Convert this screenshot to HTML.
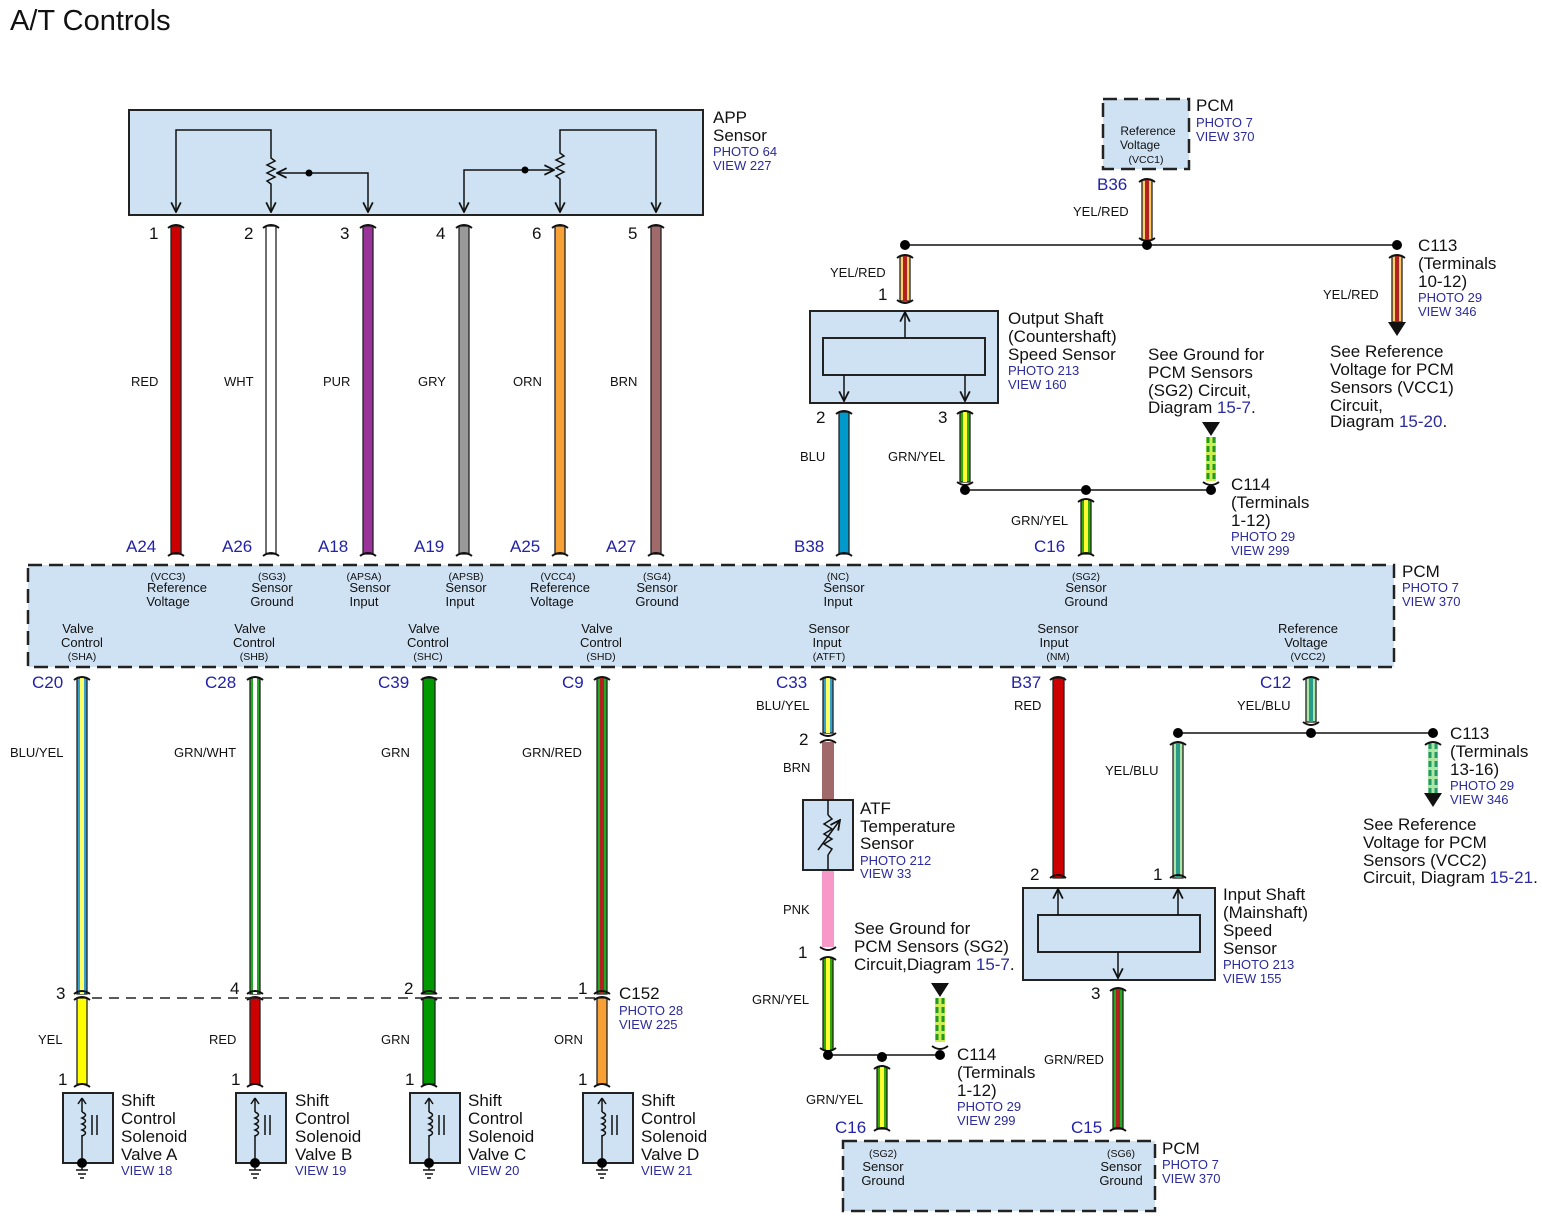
<!DOCTYPE html>
<html><head><meta charset="utf-8"><style>
html,body{margin:0;padding:0;background:#fff}
svg{display:block}
text{font-family:"Liberation Sans",sans-serif;fill:#111}
.t{font-size:29px}
.p{font-size:17px}
.w{font-size:13px}
.n{font-size:17px}
.b{font-size:13px;fill:#2b2b9c}
.c{font-size:17px;fill:#2222aa}
.l{font-size:13px;text-anchor:middle}
.s{font-size:10.5px;text-anchor:middle}
.box{fill:#cfe2f3;stroke:#222;stroke-width:2}
.dash{fill:#cfe2f3;stroke:#222;stroke-width:2.5;stroke-dasharray:14 7}
.ln{stroke:#111;stroke-width:1.5;fill:none}
.wr{stroke:#222;stroke-width:1.3}
.cap{stroke:#111;stroke-width:2;fill:none}
</style></head><body>
<svg width="1542" height="1223" viewBox="0 0 1542 1223" xmlns="http://www.w3.org/2000/svg">
<defs>
<marker id="ar" viewBox="0 0 10 10" refX="9" refY="5" markerWidth="8" markerHeight="8" orient="auto-start-reverse"><path d="M1 1 L9 5 L1 9" fill="none" stroke="#111" stroke-width="1.5"/></marker>
</defs>
<text x="10" y="30" class="t">A/T Controls</text>

<rect x="129" y="110" width="574" height="105" class="box"/>
<path class="ln" d="M176 212 V130 H271 V155" marker-start="url(#ar)"/>
<polyline class="ln" points="271,155 271,158 275,161 267,165 275,169 267,173 275,177 267,181 271,184 271,187"/>
<path class="ln" d="M271 187 V212" marker-end="url(#ar)"/>
<path class="ln" d="M368 212 V173 H277" marker-start="url(#ar)" marker-end="url(#ar)"/>
<circle cx="309" cy="173" r="3.5"/>
<path class="ln" d="M464 212 V170 H554" marker-start="url(#ar)" marker-end="url(#ar)"/>
<circle cx="525" cy="170" r="3.5"/>
<polyline class="ln" points="560,150 560,153 564,156 556,160 564,164 556,168 564,172 556,176 560,179 560,186"/>
<path class="ln" d="M560 212 V186" marker-start="url(#ar)"/>
<path class="ln" d="M560 150 V130 H656 V212" marker-end="url(#ar)"/>
<text x="713" y="123" class="n">APP</text><text x="713" y="141" class="n">Sensor</text>
<text x="713" y="156" class="b">PHOTO 64</text><text x="713" y="170" class="b">VIEW 227</text>

<g>
<rect x="171" y="226" width="10" height="328" fill="#cc0000" class="wr"/>
<rect x="266" y="226" width="10" height="328" fill="#fff" class="wr"/>
<rect x="363" y="226" width="10" height="328" fill="#993399" class="wr"/>
<rect x="459" y="226" width="10" height="328" fill="#999" class="wr"/>
<rect x="555" y="226" width="10" height="328" fill="#f7a035" class="wr"/>
<rect x="651" y="226" width="10" height="328" fill="#a06a6a" class="wr"/>
<path class="cap" d="M168 228 Q176 222 184 228 M263 228 Q271 222 279 228 M360 228 Q368 222 376 228 M456 228 Q464 222 472 228 M552 228 Q560 222 568 228 M648 228 Q656 222 664 228"/>
<path class="cap" d="M168 556 Q176 550 184 556 M263 556 Q271 550 279 556 M360 556 Q368 550 376 556 M456 556 Q464 550 472 556 M552 556 Q560 550 568 556 M648 556 Q656 550 664 556"/>
</g>
<text x="149" y="239" class="p">1</text><text x="244" y="239" class="p">2</text><text x="340" y="239" class="p">3</text>
<text x="436" y="239" class="p">4</text><text x="532" y="239" class="p">6</text><text x="628" y="239" class="p">5</text>
<text x="131" y="386" class="w">RED</text><text x="224" y="386" class="w">WHT</text><text x="323" y="386" class="w">PUR</text>
<text x="418" y="386" class="w">GRY</text><text x="513" y="386" class="w">ORN</text><text x="610" y="386" class="w">BRN</text>
<text x="126" y="552" class="c">A24</text><text x="222" y="552" class="c">A26</text><text x="318" y="552" class="c">A18</text>
<text x="414" y="552" class="c">A19</text><text x="510" y="552" class="c">A25</text><text x="606" y="552" class="c">A27</text>

<rect x="28" y="565" width="1366" height="102" class="dash"/>
<text x="1402" y="577" class="n">PCM</text><text x="1402" y="592" class="b">PHOTO 7</text><text x="1402" y="606" class="b">VIEW 370</text>
<g>
<text x="168" y="580" class="s">(VCC3)</text><text x="177" y="592" class="l">Reference</text><text x="168" y="606" class="l">Voltage</text>
<text x="272" y="580" class="s">(SG3)</text><text x="272" y="592" class="l">Sensor</text><text x="272" y="606" class="l">Ground</text>
<text x="364" y="580" class="s">(APSA)</text><text x="370" y="592" class="l">Sensor</text><text x="364" y="606" class="l">Input</text>
<text x="466" y="580" class="s">(APSB)</text><text x="466" y="592" class="l">Sensor</text><text x="460" y="606" class="l">Input</text>
<text x="558" y="580" class="s">(VCC4)</text><text x="560" y="592" class="l">Reference</text><text x="552" y="606" class="l">Voltage</text>
<text x="657" y="580" class="s">(SG4)</text><text x="657" y="592" class="l">Sensor</text><text x="657" y="606" class="l">Ground</text>
<text x="838" y="580" class="s">(NC)</text><text x="844" y="592" class="l">Sensor</text><text x="838" y="606" class="l">Input</text>
<text x="1086" y="580" class="s">(SG2)</text><text x="1086" y="592" class="l">Sensor</text><text x="1086" y="606" class="l">Ground</text>
<text x="78" y="633" class="l">Valve</text><text x="82" y="647" class="l">Control</text><text x="82" y="660" class="s">(SHA)</text>
<text x="250" y="633" class="l">Valve</text><text x="254" y="647" class="l">Control</text><text x="254" y="660" class="s">(SHB)</text>
<text x="424" y="633" class="l">Valve</text><text x="428" y="647" class="l">Control</text><text x="428" y="660" class="s">(SHC)</text>
<text x="597" y="633" class="l">Valve</text><text x="601" y="647" class="l">Control</text><text x="601" y="660" class="s">(SHD)</text>
<text x="829" y="633" class="l">Sensor</text><text x="827" y="647" class="l">Input</text><text x="829" y="660" class="s">(ATFT)</text>
<text x="1058" y="633" class="l">Sensor</text><text x="1054" y="647" class="l">Input</text><text x="1058" y="660" class="s">(NM)</text>
<text x="1308" y="633" class="l">Reference</text><text x="1306" y="647" class="l">Voltage</text><text x="1308" y="660" class="s">(VCC2)</text>
</g>

<g>
<rect x="77" y="678" width="10" height="316" fill="#33a0d0" class="wr"/><rect x="80" y="678" width="4" height="316" fill="#ffff66"/>
<rect x="250" y="678" width="10" height="316" fill="#22aa22" class="wr"/><rect x="253" y="678" width="4" height="316" fill="#fff"/>
<rect x="423" y="678" width="12" height="316" fill="#009900" class="wr"/>
<rect x="597" y="678" width="10" height="316" fill="#22aa22" class="wr"/><rect x="600" y="678" width="4" height="316" fill="#b22020"/>
<rect x="77" y="998" width="10" height="86" fill="#ffff00" class="wr"/>
<rect x="250" y="998" width="10" height="86" fill="#cc0000" class="wr"/>
<rect x="423" y="998" width="12" height="86" fill="#009900" class="wr"/>
<rect x="597" y="998" width="10" height="86" fill="#f7a035" class="wr"/>
<path class="cap" d="M74 680 Q82 674 90 680 M247 680 Q255 674 263 680 M421 680 Q429 674 437 680 M594 680 Q602 674 610 680"/>
<path class="cap" d="M74 994 Q82 988 90 994 M247 994 Q255 988 263 994 M421 994 Q429 988 437 994 M594 994 Q602 988 610 994"/>
<path class="cap" d="M74 1000 Q82 994 90 1000 M247 1000 Q255 994 263 1000 M421 1000 Q429 994 437 1000 M594 1000 Q602 994 610 1000"/>
<path class="cap" d="M74 1087 Q82 1081 90 1087 M247 1087 Q255 1081 263 1087 M421 1087 Q429 1081 437 1087 M594 1087 Q602 1081 610 1087"/>
</g>
<line x1="92" y1="998" x2="596" y2="998" stroke="#222" stroke-width="1.5" stroke-dasharray="10 7"/>
<text x="32" y="688" class="c">C20</text><text x="205" y="688" class="c">C28</text><text x="378" y="688" class="c">C39</text><text x="562" y="688" class="c">C9</text>
<text x="10" y="757" class="w">BLU/YEL</text><text x="174" y="757" class="w">GRN/WHT</text><text x="381" y="757" class="w">GRN</text><text x="522" y="757" class="w">GRN/RED</text>
<text x="56" y="999" class="p">3</text><text x="230" y="994" class="p">4</text><text x="404" y="994" class="p">2</text><text x="578" y="994" class="p">1</text>
<text x="619" y="999" class="n">C152</text><text x="619" y="1015" class="b">PHOTO 28</text><text x="619" y="1029" class="b">VIEW 225</text>
<text x="38" y="1044" class="w">YEL</text><text x="209" y="1044" class="w">RED</text><text x="381" y="1044" class="w">GRN</text><text x="554" y="1044" class="w">ORN</text>
<text x="58" y="1085" class="p">1</text><text x="231" y="1085" class="p">1</text><text x="405" y="1085" class="p">1</text><text x="578" y="1085" class="p">1</text>

<g id="sol">
<rect x="63" y="1093" width="50" height="70" class="box"/>
<path class="ln" d="M82 1158 V1135 M82 1098 V1112"/>
<path class="ln" d="M82 1098 l-4 6 M82 1098 l4 6"/>
<path class="ln" d="M82 1112 q7 3 0 6 q7 3 0 6 q7 3 0 6 q7 3 0 6"/>
<path class="ln" d="M92 1115 V1135 M97 1115 V1135"/>
<circle cx="82" cy="1163" r="5"/>
<path class="ln" d="M82 1168 V1170 M76 1170 H88 M78 1174 H86 M80 1178 H84"/>
</g>
<use href="#sol" x="173"/><use href="#sol" x="347"/><use href="#sol" x="520"/>
<text x="121" y="1106" class="n">Shift</text><text x="121" y="1124" class="n">Control</text><text x="121" y="1142" class="n">Solenoid</text><text x="121" y="1160" class="n">Valve A</text><text x="121" y="1175" class="b">VIEW 18</text>
<text x="295" y="1106" class="n">Shift</text><text x="295" y="1124" class="n">Control</text><text x="295" y="1142" class="n">Solenoid</text><text x="295" y="1160" class="n">Valve B</text><text x="295" y="1175" class="b">VIEW 19</text>
<text x="468" y="1106" class="n">Shift</text><text x="468" y="1124" class="n">Control</text><text x="468" y="1142" class="n">Solenoid</text><text x="468" y="1160" class="n">Valve C</text><text x="468" y="1175" class="b">VIEW 20</text>
<text x="641" y="1106" class="n">Shift</text><text x="641" y="1124" class="n">Control</text><text x="641" y="1142" class="n">Solenoid</text><text x="641" y="1160" class="n">Valve D</text><text x="641" y="1175" class="b">VIEW 21</text>

<rect x="1103" y="99" width="86" height="70" class="dash"/>
<text x="1148" y="135" class="l" style="font-size:12px">Reference</text><text x="1140" y="149" class="l" style="font-size:12px">Voltage</text><text x="1146" y="163" class="s">(VCC1)</text>
<text x="1196" y="111" class="n">PCM</text><text x="1196" y="127" class="b">PHOTO 7</text><text x="1196" y="141" class="b">VIEW 370</text>
<text x="1097" y="190" class="c">B36</text>
<rect x="1142" y="180" width="10" height="60" fill="#ffcc66" class="wr"/><rect x="1145" y="180" width="4" height="60" fill="#b22020"/>
<path class="cap" d="M1139 182 Q1147 176 1155 182 M1139 238 Q1147 244 1155 238"/>
<text x="1073" y="216" class="w">YEL/RED</text>
<line x1="905" y1="245" x2="1397" y2="245" stroke="#111" stroke-width="1.5"/>
<circle cx="905" cy="245" r="5"/><circle cx="1147" cy="245" r="5"/><circle cx="1397" cy="245" r="5"/>
<rect x="900" y="256" width="10" height="45" fill="#ffcc66" class="wr"/><rect x="903" y="256" width="4" height="45" fill="#b22020"/>
<path class="cap" d="M897 258 Q905 252 913 258 M897 300 Q905 306 913 300"/>
<text x="830" y="277" class="w">YEL/RED</text><text x="878" y="300" class="p">1</text>
<rect x="1392" y="256" width="10" height="66" fill="#ffcc66" class="wr"/><rect x="1395" y="256" width="4" height="66" fill="#b22020"/>
<path class="cap" d="M1389 258 Q1397 252 1405 258"/>
<path d="M1388 322 H1406 L1397 336 Z" fill="#111"/>
<text x="1323" y="299" class="w">YEL/RED</text>
<text x="1418" y="251" class="n">C113</text><text x="1418" y="269" class="n">(Terminals</text><text x="1418" y="287" class="n">10-12)</text>
<text x="1418" y="302" class="b">PHOTO 29</text><text x="1418" y="316" class="b">VIEW 346</text>
<text x="1330" y="357" class="n">See Reference</text><text x="1330" y="375" class="n">Voltage for PCM</text><text x="1330" y="393" class="n">Sensors (VCC1)</text><text x="1330" y="411" class="n">Circuit,</text>
<text x="1330" y="427" class="n">Diagram <tspan style="fill:#2b2b9c">15-20</tspan>.</text>

<rect x="810" y="311" width="188" height="92" class="box"/>
<rect x="823" y="338" width="162" height="37" fill="none" stroke="#222" stroke-width="2"/>
<path class="ln" d="M905 338 V312" marker-end="url(#ar)"/>
<path class="ln" d="M844 375 V401" marker-end="url(#ar)"/><path class="ln" d="M965 375 V401" marker-end="url(#ar)"/>
<text x="1008" y="324" class="n">Output Shaft</text><text x="1008" y="342" class="n">(Countershaft)</text><text x="1008" y="360" class="n">Speed Sensor</text>
<text x="1008" y="375" class="b">PHOTO 213</text><text x="1008" y="389" class="b">VIEW 160</text>
<text x="816" y="423" class="p">2</text><text x="938" y="423" class="p">3</text>
<rect x="839" y="412" width="10" height="142" fill="#0099cc" class="wr"/>
<path class="cap" d="M836 414 Q844 408 852 414 M836 556 Q844 550 852 556"/>
<text x="800" y="461" class="w">BLU</text><text x="794" y="552" class="c">B38</text>
<rect x="960" y="412" width="10" height="70" fill="#33aa00" class="wr"/><rect x="963" y="412" width="4" height="70" fill="#ffff33"/>
<path class="cap" d="M957 414 Q965 408 973 414 M957 482 Q965 488 973 482"/>
<text x="888" y="461" class="w">GRN/YEL</text>
<line x1="965" y1="490" x2="1211" y2="490" stroke="#111" stroke-width="1.5"/>
<circle cx="965" cy="490" r="5"/><circle cx="1086" cy="490" r="5"/><circle cx="1211" cy="490" r="5"/>
<rect x="1081" y="500" width="10" height="54" fill="#33aa00" class="wr"/><rect x="1084" y="500" width="4" height="54" fill="#ffff33"/>
<path class="cap" d="M1078 502 Q1086 496 1094 502 M1078 556 Q1086 550 1094 556"/>
<text x="1011" y="525" class="w">GRN/YEL</text><text x="1034" y="552" class="c">C16</text>
<path d="M1202 422 H1220 L1211 436 Z" fill="#111"/>
<rect x="1206" y="437" width="10" height="44" fill="#ccee55"/>
<path d="M1208 437 V481 M1214 437 V481" stroke="#229922" stroke-width="3" stroke-dasharray="6 3"/>
<path class="cap" d="M1203 482 Q1211 488 1219 482"/>
<text x="1148" y="360" class="n">See Ground for</text><text x="1148" y="378" class="n">PCM Sensors</text><text x="1148" y="396" class="n">(SG2) Circuit,</text>
<text x="1148" y="413" class="n">Diagram <tspan style="fill:#2b2b9c">15-7</tspan>.</text>
<text x="1231" y="490" class="n">C114</text><text x="1231" y="508" class="n">(Terminals</text><text x="1231" y="526" class="n">1-12)</text>
<text x="1231" y="541" class="b">PHOTO 29</text><text x="1231" y="555" class="b">VIEW 299</text>

<text x="776" y="688" class="c">C33</text>
<rect x="823" y="678" width="10" height="55" fill="#33a0d0" class="wr"/><rect x="826" y="678" width="4" height="55" fill="#ffff66"/>
<path class="cap" d="M820 680 Q828 674 836 680 M820 733 Q828 739 836 733"/>
<text x="756" y="710" class="w">BLU/YEL</text><text x="799" y="745" class="p">2</text>
<rect x="822" y="742" width="12" height="58" fill="#a06a6a"/>
<path class="cap" d="M820 743 Q828 737 836 743"/>
<text x="783" y="772" class="w">BRN</text>
<rect x="803" y="800" width="50" height="70" class="box"/>
<path class="ln" d="M828 800 V815 M828 855 V870"/>
<polyline class="ln" points="828,815 832,819 824,824 832,829 824,834 832,839 824,844 832,849 828,855"/>
<path class="ln" d="M818 850 L840 820" marker-end="url(#ar)"/>
<text x="860" y="814" class="n">ATF</text><text x="860" y="832" class="n">Temperature</text><text x="860" y="849" class="n">Sensor</text>
<text x="860" y="865" class="b">PHOTO 212</text><text x="860" y="878" class="b">VIEW 33</text>
<rect x="822" y="871" width="12" height="76" fill="#f799c8"/>
<path class="cap" d="M820 947 Q828 953 836 947"/>
<text x="783" y="914" class="w">PNK</text><text x="798" y="958" class="p">1</text>
<rect x="823" y="958" width="10" height="92" fill="#33aa00" class="wr"/><rect x="826" y="958" width="4" height="92" fill="#ffff33"/>
<path class="cap" d="M820 960 Q828 954 836 960 M820 1048 Q828 1054 836 1048"/>
<text x="752" y="1004" class="w">GRN/YEL</text>
<line x1="828" y1="1055" x2="940" y2="1055" stroke="#111" stroke-width="1.5"/>
<circle cx="828" cy="1055" r="5"/><circle cx="882" cy="1057" r="5"/><circle cx="940" cy="1055" r="5"/>
<path d="M931 983 H949 L940 997 Z" fill="#111"/>
<rect x="935" y="998" width="10" height="44" fill="#ccee55"/>
<path d="M937 998 V1042 M943 998 V1042" stroke="#229922" stroke-width="3" stroke-dasharray="6 3"/>
<path class="cap" d="M932 1046 Q940 1052 948 1046"/>
<text x="854" y="934" class="n">See Ground for</text><text x="854" y="952" class="n">PCM Sensors (SG2)</text>
<text x="854" y="970" class="n">Circuit,Diagram <tspan style="fill:#2b2b9c">15-7</tspan>.</text>
<text x="957" y="1060" class="n">C114</text><text x="957" y="1078" class="n">(Terminals</text><text x="957" y="1096" class="n">1-12)</text>
<text x="957" y="1111" class="b">PHOTO 29</text><text x="957" y="1125" class="b">VIEW 299</text>
<rect x="877" y="1067" width="10" height="62" fill="#33aa00" class="wr"/><rect x="880" y="1067" width="4" height="62" fill="#ffff33"/>
<path class="cap" d="M874 1069 Q882 1063 890 1069 M874 1131 Q882 1125 890 1131"/>
<text x="806" y="1104" class="w">GRN/YEL</text><text x="835" y="1133" class="c">C16</text>

<text x="1011" y="688" class="c">B37</text>
<rect x="1053" y="678" width="11" height="200" fill="#cc0000" class="wr"/>
<path class="cap" d="M1050 680 Q1058 674 1066 680 M1050 878 Q1058 872 1066 878"/>
<text x="1014" y="710" class="w">RED</text>
<text x="1260" y="688" class="c">C12</text>
<rect x="1306" y="678" width="10" height="44" fill="#aee6a6" class="wr"/><rect x="1309" y="678" width="4" height="44" fill="#2a9a8a"/>
<path class="cap" d="M1303 680 Q1311 674 1319 680 M1303 722 Q1311 728 1319 722"/>
<text x="1237" y="710" class="w">YEL/BLU</text>
<line x1="1178" y1="733" x2="1433" y2="733" stroke="#111" stroke-width="1.5"/>
<circle cx="1178" cy="733" r="5"/><circle cx="1311" cy="733" r="5"/><circle cx="1433" cy="733" r="5"/>
<rect x="1173" y="743" width="10" height="135" fill="#aee6a6" class="wr"/><rect x="1176" y="743" width="4" height="135" fill="#2a9a8a"/>
<path class="cap" d="M1170 745 Q1178 739 1186 745 M1170 878 Q1178 872 1186 878"/>
<text x="1105" y="775" class="w">YEL/BLU</text>
<rect x="1428" y="743" width="10" height="50" fill="#aee6a6"/>
<path d="M1430 743 V793 M1436 743 V793" stroke="#229a66" stroke-width="3" stroke-dasharray="6 3"/>
<path class="cap" d="M1425 745 Q1433 739 1441 745"/>
<path d="M1424 793 H1442 L1433 807 Z" fill="#111"/>
<text x="1450" y="739" class="n">C113</text><text x="1450" y="757" class="n">(Terminals</text><text x="1450" y="775" class="n">13-16)</text>
<text x="1450" y="790" class="b">PHOTO 29</text><text x="1450" y="804" class="b">VIEW 346</text>
<text x="1363" y="830" class="n">See Reference</text><text x="1363" y="848" class="n">Voltage for PCM</text><text x="1363" y="866" class="n">Sensors (VCC2)</text>
<text x="1363" y="883" class="n">Circuit, Diagram <tspan style="fill:#2b2b9c">15-21</tspan>.</text>
<text x="1030" y="880" class="p">2</text><text x="1153" y="880" class="p">1</text>
<rect x="1023" y="888" width="192" height="92" class="box"/>
<rect x="1038" y="915" width="162" height="37" fill="none" stroke="#222" stroke-width="2"/>
<path class="ln" d="M1058 915 V889" marker-end="url(#ar)"/><path class="ln" d="M1178 915 V889" marker-end="url(#ar)"/>
<path class="ln" d="M1118 952 V978" marker-end="url(#ar)"/>
<text x="1223" y="900" class="n">Input Shaft</text><text x="1223" y="918" class="n">(Mainshaft)</text><text x="1223" y="936" class="n">Speed</text><text x="1223" y="954" class="n">Sensor</text>
<text x="1223" y="969" class="b">PHOTO 213</text><text x="1223" y="983" class="b">VIEW 155</text>
<text x="1091" y="999" class="p">3</text>
<rect x="1113" y="989" width="10" height="140" fill="#22aa22" class="wr"/><rect x="1116" y="989" width="4" height="140" fill="#b22020"/>
<path class="cap" d="M1110 991 Q1118 985 1126 991 M1110 1131 Q1118 1125 1126 1131"/>
<text x="1044" y="1064" class="w">GRN/RED</text><text x="1071" y="1133" class="c">C15</text>

<rect x="843" y="1141" width="312" height="70" class="dash"/>
<text x="883" y="1157" class="s">(SG2)</text><text x="883" y="1171" class="l">Sensor</text><text x="883" y="1185" class="l">Ground</text>
<text x="1121" y="1157" class="s">(SG6)</text><text x="1121" y="1171" class="l">Sensor</text><text x="1121" y="1185" class="l">Ground</text>
<text x="1162" y="1154" class="n">PCM</text><text x="1162" y="1169" class="b">PHOTO 7</text><text x="1162" y="1183" class="b">VIEW 370</text>
</svg>
</body></html>
